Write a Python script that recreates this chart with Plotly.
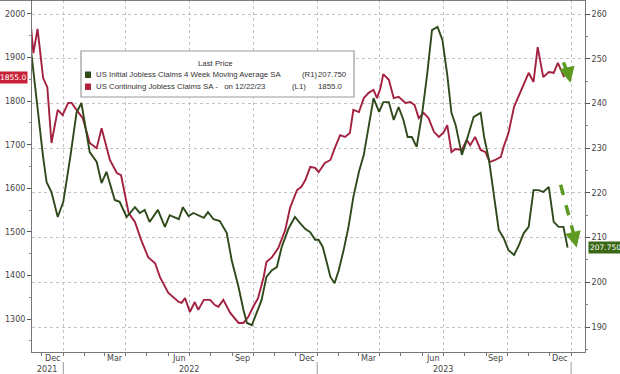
import plotly.graph_objects as go

# ---------------- data ----------------
cont_dates = ["2021-11-14","2021-11-19","2021-11-25","2021-12-03","2021-12-09","2021-12-15","2021-12-24","2021-12-31",
"2022-01-08","2022-01-13","2022-01-20","2022-01-29","2022-02-08","2022-02-18","2022-02-25","2022-03-09","2022-03-19",
"2022-03-25","2022-04-05","2022-04-14","2022-04-23","2022-05-03","2022-05-13","2022-05-20","2022-06-01","2022-06-16",
"2022-06-20","2022-06-25","2022-07-02","2022-07-09","2022-07-14","2022-07-22","2022-07-31","2022-08-07","2022-08-12",
"2022-08-19","2022-08-29","2022-09-10","2022-09-17","2022-09-24","2022-10-01","2022-10-08","2022-10-16","2022-10-20",
"2022-10-28","2022-11-06","2022-11-16","2022-11-23","2022-12-03","2022-12-09","2022-12-15","2022-12-22","2022-12-29",
"2023-01-03","2023-01-12","2023-01-20","2023-01-27","2023-02-03","2023-02-10","2023-02-17","2023-02-22","2023-03-02",
"2023-03-09","2023-03-16","2023-03-23","2023-03-28","2023-04-02","2023-04-06","2023-04-14","2023-04-21","2023-04-28",
"2023-05-08","2023-05-15","2023-05-21","2023-05-27","2023-06-03","2023-06-10","2023-06-18","2023-06-25","2023-07-02",
"2023-07-07","2023-07-13","2023-07-19","2023-07-28","2023-08-04","2023-08-09","2023-08-16","2023-08-24","2023-08-31",
"2023-09-06","2023-09-14","2023-09-22","2023-09-26","2023-10-03","2023-10-11","2023-10-18","2023-10-25","2023-11-01",
"2023-11-08","2023-11-14","2023-11-22","2023-11-30","2023-12-07","2023-12-13","2023-12-22"]
cont_values = [1998,1910,1966,1853,1832,1704,1780,1768,
1796,1796,1780,1761,1704,1692,1738,1665,1635,
1630,1543,1523,1481,1442,1428,1396,1360,1339,
1337,1348,1316,1339,1321,1344,1344,1332,1328,
1344,1314,1291,1291,1305,1328,1348,1396,1431,
1442,1463,1504,1555,1596,1603,1619,1649,1647,
1637,1658,1665,1695,1722,1718,1727,1780,1775,
1807,1819,1826,1807,1830,1862,1849,1807,1810,
1796,1798,1791,1761,1773,1761,1729,1718,1729,
1745,1683,1690,1688,1711,1699,1718,1688,1683,
1660,1665,1672,1695,1727,1787,1814,1837,1865,
1844,1924,1855,1867,1865,1888,1855.0]

init_dates = ["2021-11-16","2021-11-25","2021-12-03","2021-12-08","2021-12-15","2021-12-24","2022-01-01","2022-01-11",
"2022-01-20","2022-01-27","2022-02-08","2022-02-18","2022-02-25","2022-03-04","2022-03-16","2022-03-23","2022-04-02",
"2022-04-14","2022-04-21","2022-04-28","2022-05-05","2022-05-17","2022-05-27","2022-06-03","2022-06-16","2022-06-22",
"2022-06-30","2022-07-07","2022-07-22","2022-07-28","2022-08-05","2022-08-14","2022-08-24","2022-08-31","2022-09-10",
"2022-09-17","2022-09-22","2022-09-29","2022-10-06","2022-10-13","2022-10-20","2022-10-28","2022-11-04","2022-11-11",
"2022-11-21","2022-11-30","2022-12-07","2022-12-15","2022-12-22","2022-12-29","2023-01-03","2023-01-09","2023-01-15",
"2023-01-20","2023-01-26","2023-02-01","2023-02-08","2023-02-15","2023-02-22","2023-03-02","2023-03-09","2023-03-16",
"2023-03-23","2023-03-31","2023-04-06","2023-04-14","2023-04-21","2023-04-28","2023-05-05","2023-05-11","2023-05-17",
"2023-05-24","2023-06-01","2023-06-08","2023-06-15","2023-06-23","2023-06-30","2023-07-07","2023-07-13","2023-07-19",
"2023-07-28","2023-08-04","2023-08-14","2023-08-24","2023-08-29","2023-09-05","2023-09-12","2023-09-19","2023-09-26",
"2023-10-03","2023-10-11","2023-10-18","2023-10-25","2023-11-01","2023-11-08","2023-11-15","2023-11-22","2023-11-30",
"2023-12-07","2023-12-14","2023-12-21","2023-12-27"]
init_values = [251.3,238.5,228.0,222.4,220.2,214.6,218.0,228.0,
237.9,240.1,229.1,226.9,222.2,224.7,218.4,218.0,214.6,
216.8,215.5,216.2,213.5,216.2,212.4,215.0,214.1,216.8,
214.8,215.5,214.4,215.7,214.1,213.7,211.0,205.0,198.9,
193.8,190.9,190.4,193.1,196.0,201.2,202.7,203.4,207.9,
212.1,214.6,213.3,211.9,211.2,209.5,209.5,207.9,204.3,
201.2,199.8,202.7,207.2,212.4,219.1,224.7,228.5,234.7,
241.2,238.1,240.3,240.3,236.3,239.2,236.3,232.5,232.5,
230.3,237.9,246.4,256.4,257.1,254.2,246.4,237.9,235.2,
228.5,231.8,237.0,237.9,232.5,227.3,219.1,211.7,209.9,
207.2,206.1,208.3,211.0,212.4,220.6,220.6,220.2,221.3,
213.5,212.4,212.4,207.75]

left_ticks = [1300, 1400, 1500, 1600, 1700, 1800, 1900, 2000]
right_ticks = [190, 200, 210, 220, 230, 240, 250, 260]
month_label_dates = ["2021-12-16","2022-03-16","2022-06-16","2022-09-15","2022-12-16",
                     "2023-03-16","2023-06-16","2023-09-15","2023-12-16"]
month_labels = ["Dec","Mar","Jun","Sep","Dec","Mar","Jun","Sep","Dec"]
year_label_dates = ["2021-12-09","2022-07-01","2023-07-01"]
year_labels = ["2021","2022","2023"]
year_sep_dates = ["2022-01-01","2023-01-01","2024-01-01"]
quarter_dates = ["2022-01-01","2022-04-01","2022-07-01","2022-10-01","2023-01-01",
                 "2023-04-01","2023-07-01","2023-10-01","2024-01-01"]

RED = "#a3213f"
GREEN = "#2f4a1a"
ARROW = "#5c9a22"
W, H = 620, 374
L, R, T, B = 32, 35, 0, 22
PW, PH = W - L - R, H - T - B

def px(x):
    return (x - L) / PW

def py(y):
    return (H - B - y) / PH

fig = go.Figure()
fig.add_trace(go.Scatter(x=cont_dates, y=cont_values, mode="lines",
                         line=dict(color=RED, width=1.9), yaxis="y", showlegend=False))
fig.add_trace(go.Scatter(x=init_dates, y=init_values, mode="lines",
                         line=dict(color=GREEN, width=1.9), yaxis="y2", showlegend=False))

tickfont = dict(family="DejaVu Sans", size=8, color="#444444")

fig.update_layout(
    width=W, height=H, margin=dict(l=L, r=R, t=T, b=B, autoexpand=False),
    paper_bgcolor="white", plot_bgcolor="white",
    xaxis=dict(type="date", range=["2021-11-17", "2024-01-21"],
               tickmode="array", tickvals=quarter_dates, showticklabels=False,
               ticks="outside", ticklen=3, tickcolor="#777",
               showgrid=True, gridcolor="#c4c4c4", griddash="dot", gridwidth=1,
               showline=True, linecolor="#777", linewidth=1, zeroline=False,
               minor=dict(tickmode="linear", tick0="2021-11-01", dtick="M1",
                          ticks="outside", ticklen=3, tickcolor="#777", showgrid=False)),
    yaxis=dict(range=[1224.3, 2032.1], tickmode="array", tickvals=left_ticks,
               ticktext=[str(v) for v in left_ticks], tickfont=tickfont,
               ticks="outside", ticklen=4, tickcolor="#555", showgrid=False,
               showline=True, linecolor="#777", linewidth=1, zeroline=False,
               minor=dict(tickmode="linear", tick0=1250, dtick=50, ticks="outside",
                          ticklen=2, tickcolor="#888", showgrid=False)),
    yaxis2=dict(range=[184.41, 263.13], overlaying="y", side="right",
                tickmode="array", tickvals=right_ticks, tickfont=tickfont,
                ticks="outside", ticklen=4, tickcolor="#555",
                showgrid=True, gridcolor="#c4c4c4", griddash="dot", gridwidth=1,
                showline=True, linecolor="#777", linewidth=1, zeroline=False,
                minor=dict(tickmode="linear", tick0=185, dtick=5, ticks="outside",
                           ticklen=2, tickcolor="#888", showgrid=False)),
)

# top frame line
fig.add_shape(type="line", xref="paper", yref="paper", x0=px(0), x1=1, y0=1, y1=1,
              line=dict(color="#555", width=1.5))

# month / year labels
for d, t in zip(month_label_dates, month_labels):
    fig.add_annotation(x=d, xref="x", y=py(358), yref="paper", text=t, showarrow=False,
                       font=tickfont, xanchor="center", yanchor="middle")
for d, t in zip(year_label_dates, year_labels):
    fig.add_annotation(x=d, xref="x", y=py(369), yref="paper", text=t, showarrow=False,
                       font=tickfont, xanchor="center", yanchor="middle")
for d in year_sep_dates:
    fig.add_shape(type="line", xref="x", yref="paper", x0=d, x1=d, y0=py(362), y1=py(374),
                  line=dict(color="#999", width=1))

# legend box
fig.add_shape(type="rect", xref="paper", yref="paper", x0=px(81), x1=px(354), y0=py(97), y1=py(51),
              line=dict(color="#9a9a9a", width=1.2), fillcolor="white", layer="above")
lf = dict(family="Liberation Sans", size=7.8, color="#333333")
fig.add_annotation(x=px(215), y=py(63.5), xref="paper", yref="paper", text="Last Price",
                   showarrow=False, font=lf, xanchor="center", yanchor="middle")
fig.add_shape(type="rect", xref="paper", yref="paper", x0=px(85), x1=px(91), y0=py(78), y1=py(71.5),
              line=dict(width=0), fillcolor=GREEN, layer="above")
fig.add_shape(type="rect", xref="paper", yref="paper", x0=px(85), x1=px(91), y0=py(90), y1=py(83.5),
              line=dict(width=0), fillcolor="#b0203c", layer="above")
rows = [
    (74.6, "US Initial Jobless Claims 4 Week Moving Average SA", "(R1)", 300, "207.750", 349),
    (86.8, "US Continuing Jobless Claims SA -   on 12/22/23", "(L1)", 290, "1855.0", 345),
]
for yy, name, tag, tagx, val, valx in rows:
    fig.add_annotation(x=px(94), y=py(yy), xref="paper", yref="paper", text=name,
                       showarrow=False, font=lf, xanchor="left", yanchor="middle")
    fig.add_annotation(x=px(tagx), y=py(yy), xref="paper", yref="paper", text=tag,
                       showarrow=False, font=lf, xanchor="left", yanchor="middle")
    fig.add_annotation(x=px(valx), y=py(yy), xref="paper", yref="paper", text=val,
                       showarrow=False, font=lf, xanchor="right", yanchor="middle")

# last value labels on axes
fig.add_annotation(x=0, xref="paper", xanchor="right", xshift=-4, y=cont_values[-1], yref="y",
                   text="1855.0", showarrow=False, bgcolor="#c8223a", borderpad=1,
                   font=dict(family="DejaVu Sans", size=7.5, color="white"))
fig.add_annotation(x=1, xref="paper", xanchor="left", xshift=3, y=init_values[-1], yref="y2",
                   text="207.750", showarrow=False, bgcolor="#3b6816", borderpad=1,
                   font=dict(family="DejaVu Sans", size=7.5, color="white"))

# dashed green arrows (drawn annotations)
arrows = [("2023-12-21", 249.2, "2023-12-29", 246.0), ("2023-12-17", 221.8, "2024-01-05", 210.6)]
for x0, y0, x1, y1 in arrows:
    fig.add_shape(type="line", xref="x", yref="y2", x0=x0, y0=y0, x1=x1, y1=y1,
                  line=dict(color=ARROW, width=3.5, dash="dash"))

heads = [("2023-12-28", 246.6, "2023-12-31", 244.6), ("2024-01-04", 211.0, "2024-01-09", 207.8)]
for hx0, hy0, hx1, hy1 in heads:
    fig.add_annotation(x=hx1, y=hy1, xref="x", yref="y2", ax=hx0, ay=hy0, axref="x", ayref="y2",
                       text="", showarrow=True, arrowhead=2, arrowsize=0.9, arrowwidth=3.5,
                       arrowcolor=ARROW)

fig.write_html("out.html", config={"displayModeBar": False},
               post_script="document.body.style.margin='0';document.body.style.padding='0';")
